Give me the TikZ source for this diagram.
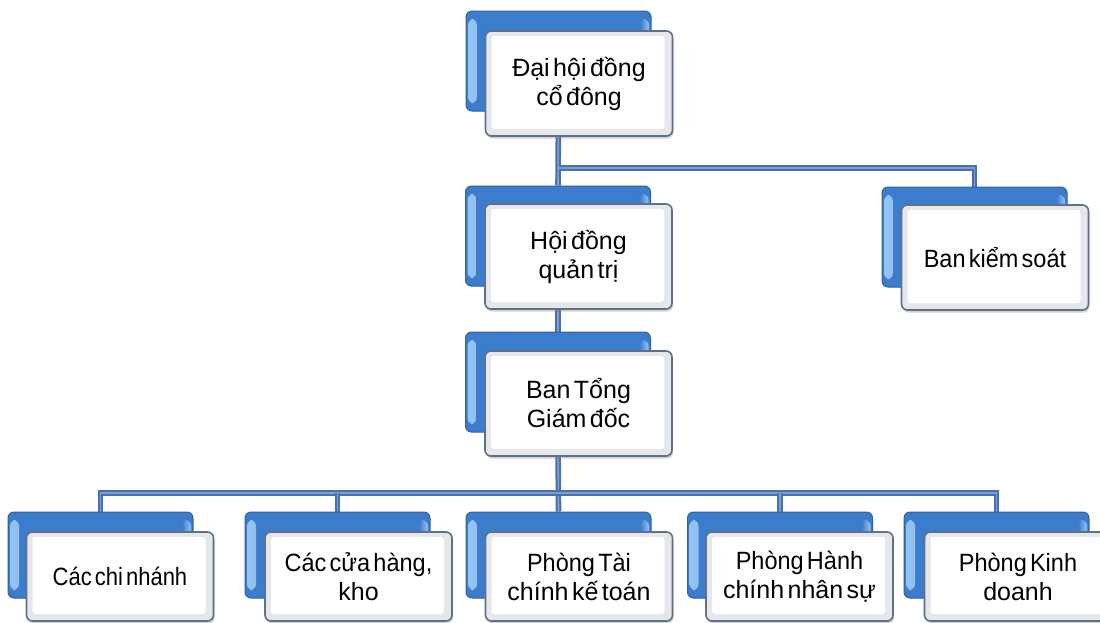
\documentclass[tikz,border=0pt]{standalone}
\usepackage{fontspec}
\setmainfont{Liberation Sans}[WordSpace=0.5]
\newfontfamily\condfont{Liberation Sans}[FakeStretch=0.88,WordSpace=0.5]
\newfontfamily\semicond{Liberation Sans}[FakeStretch=0.94,WordSpace=0.5]
\usetikzlibrary{shadows}
\definecolor{bblue}{RGB}{60,124,204}
\definecolor{bedge}{RGB}{48,96,165}
\definecolor{blight}{RGB}{150,196,242}
\definecolor{fedge}{RGB}{95,112,135}
\definecolor{fgray}{RGB}{230,231,234}
\definecolor{connout}{RGB}{72,112,172}
\definecolor{connin}{RGB}{125,160,208}
\pgfdeclarelayer{bg}
\pgfdeclarelayer{lines}
\pgfsetlayers{bg,lines,main}
\tikzset{
  backbox/.style={rounded corners=6pt, fill=bblue, draw=bedge, line width=1pt,
    minimum width=185pt, minimum height=100pt, inner sep=0pt,
    path picture={
      \shade[left color=blight, right color=bblue]
        ([shift={(2pt,8pt)}]path picture bounding box.south west) rectangle
        ([shift={(11pt,-8pt)}]path picture bounding box.north west);
      \shade[left color=bblue, right color=blight]
        ([shift={(-11pt,8pt)}]path picture bounding box.south east) rectangle
        ([shift={(-2pt,-8pt)}]path picture bounding box.north east);
    }},
  lowback/.style={backbox, minimum height=86pt},
  frontbox/.style={rounded corners=6pt, fill=white, draw=fedge, line width=1.6pt,
    minimum width=187pt, minimum height=105pt, inner sep=2pt, align=center,
    font=\fontsize{25}{29}\selectfont,
    drop shadow={opacity=0.35, shadow xshift=1pt, shadow yshift=-2.5pt},
    path picture={
      \fill[fgray] (path picture bounding box.south west) rectangle
        (path picture bounding box.north east);
      \fill[white, rounded corners=3pt]
        ([shift={(6pt,7pt)}]path picture bounding box.south west) rectangle
        ([shift={(-8pt,-5pt)}]path picture bounding box.north east);
    }},
  lowfront/.style={frontbox, minimum height=89pt},
  conn/.style={draw=connout, line width=2pt, double=connin, double distance=1.6pt}
}
\begin{document}
\begin{tikzpicture}[x=1pt,y=-1pt]
\begin{pgfonlayer}{bg}
\fill[white] (0,0) rectangle (1100,622);
\end{pgfonlayer}
\useasboundingbox (0,0) rectangle (1100,622);

% back boxes
\node[backbox] (topb)  at (558.5,61) {};
\node[backbox] (hdqtb) at (558,236) {};
\node[backbox] (bksb)  at (974.5,237) {};
\node[backbox] (tgdb)  at (558,382) {};
\node[lowback] (b1b) at (100.5,555) {};
\node[lowback] (b2b) at (337.5,555) {};
\node[lowback] (b3b) at (558.5,555) {};
\node[lowback] (b4b) at (780,555) {};
\node[lowback] (b5b) at (996.5,555) {};

% front boxes
\node[frontbox] (top)  at (579,83.5) {Đại hội đồng\\cổ đông};
\node[frontbox] (hdqt) at (578.5,256.5) {Hội đồng\\quản trị};
\node[frontbox] (bks)  at (995,257.5) {\semicond Ban kiểm soát};
\node[frontbox] (tgd)  at (578.5,403.5) {Ban Tổng\\Giám đốc};
\node[lowfront] (b1) at (120,576.5) {{\condfont Các chi nhánh}};
\node[lowfront] (b2) at (358.5,576.5) {\semicond Các cửa hàng,\\kho};
\node[lowfront] (b3) at (579,576.5) {\semicond Phòng Tài\\chính kế toán};
\node[lowfront] (b4) at (799.5,576.5) {\semicond Phòng Hành\\chính nhân sự};
\node[lowfront] (b5) at (1018,576.5) {\semicond Phòng Kinh\\doanh};

\coordinate (j1) at (558,168);
\coordinate (j2) at (558,493);

% connectors
\begin{pgfonlayer}{lines}
\draw[conn] (topb.south) -- (hdqtb.north);
\draw[conn] (topb.south |- j1) -| (bksb.north);
\draw[conn] (hdqtb.south) -- (tgdb.north);
\draw[conn] (tgdb.south) -- (b3b.north);
\draw[conn] (b1b.north) |- (b5b.north |- j2) -- (b5b.north);
\draw[conn] (b2b.north) -- (b2b.north |- j2);
\draw[conn] (b4b.north) -- (b4b.north |- j2);
\end{pgfonlayer}
\end{tikzpicture}
\end{document}
